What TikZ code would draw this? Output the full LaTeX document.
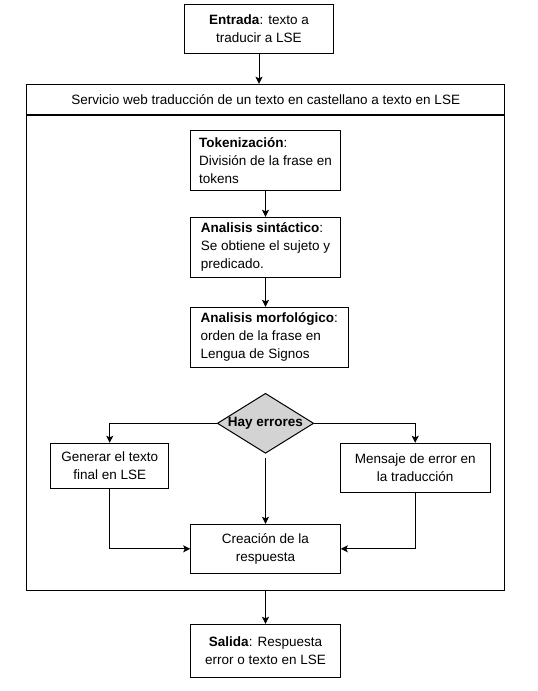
\documentclass[tikz,border=0pt]{standalone}
\usepackage{fontspec}
\setmainfont{Liberation Sans}
\usetikzlibrary{shapes.geometric,arrows.meta}
\definecolor{diagray}{RGB}{211,211,211}
\begin{document}
\begin{tikzpicture}[x=1pt,y=-1pt,
  every node/.style={font=\fontsize{13.5}{18}\selectfont},
  box/.style={draw,line width=1pt,rectangle,inner sep=0pt,align=center},
  lbox/.style={box,align=left},
  dia/.style={draw,line width=1pt,diamond,fill=diagray,inner sep=0pt,minimum width=96.4pt,minimum height=60pt},
  arr/.style={-{Stealth[length=7pt,width=7pt,inset=1.5pt]},line width=1pt}]
\useasboundingbox (0,0) rectangle (538,691);

\node[box,minimum width=149.7pt,minimum height=49pt] (entrada) at (259,28.8) {\textbf{Entrada}: texto a\\traducir a LSE};

\node[box,minimum width=478pt,minimum height=31.4pt] (hdr) at (265.7,100) {Servicio web traducción de un texto en castellano a texto en LSE};
\node[box,minimum width=478pt,minimum height=474.3pt] (body) at (265.7,352.85) {};
\draw[line width=1.8pt] (body.north west) -- (body.north east);

\node[lbox,minimum width=149.6pt,minimum height=60pt] (tok) at (265.5,160.3) {\textbf{Tokenización}:\\División de la frase en\\tokens};
\node[lbox,minimum width=149.6pt,minimum height=60pt] (sint) at (265.5,247.3) {\textbf{Analisis sintáctico}:\\Se obtiene el sujeto y\\predicado.};
\node[lbox,minimum width=157.3pt,minimum height=60pt] (morf) at (269.35,337.3) {\textbf{Analisis morfológico}:\\orden de la frase en\\Lengua de Signos};

\node[dia] (dec) at (265.5,423.3) {};
\node[font=\fontsize{13.5}{18}\selectfont\bfseries] (dectext) at (dec.center) {Hay errores};

\node[box,minimum width=118pt,minimum height=45pt] (gen) at (109.7,465.8) {Generar el texto\\final en LSE};
\node[box,minimum width=149.7pt,minimum height=49pt] (men) at (415.2,467.8) {Mensaje de error en\\la traducción};
\node[box,minimum width=149.6pt,minimum height=49pt] (cre) at (265.5,548.8) {Creación de la\\respuesta};
\node[box,minimum width=149.6pt,minimum height=53pt] (sal) at (265.5,650.8) {\textbf{Salida}: Respuesta\\error o texto en LSE};

\draw[arr] (entrada.south) -- (entrada.south |- hdr.north);
\draw[arr] (tok.south) -- (sint.north);
\draw[arr] (sint.south) -- (sint.south |- morf.north);
\draw[arr] (dec.west) -| (gen.north);
\draw[arr] (dec.east) -| (men.north);
\draw[arr,shorten <=4pt] (dec.south) -- (cre.north);
\draw[arr] (gen.south) |- (cre.west);
\draw[arr] (men.south) |- (cre.east);
\draw[arr] (body.south -| sal.north) -- (sal.north);
\end{tikzpicture}
\end{document}
